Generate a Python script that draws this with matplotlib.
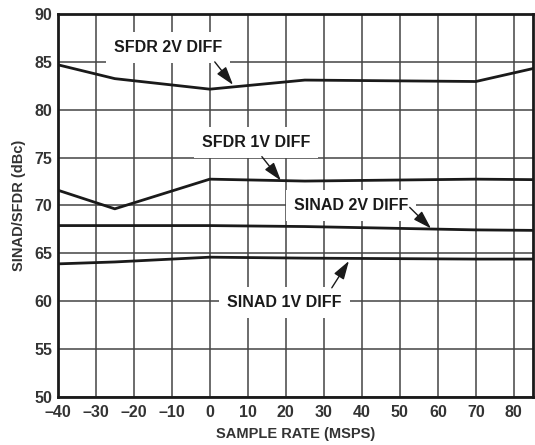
import matplotlib.pyplot as plt

plt.rcParams['font.family'] = ['Liberation Sans', 'DejaVu Sans']

x = [-40, -25, 0, 25, 70, 85]
sfdr_2v = [84.7, 83.25, 82.15, 83.1, 82.95, 84.3]
sfdr_1v = [71.6, 69.65, 72.75, 72.55, 72.75, 72.7]
sinad_2v = [67.9, 67.9, 67.9, 67.8, 67.45, 67.4]
sinad_1v = [63.9, 64.1, 64.6, 64.5, 64.4, 64.4]

x_ticks = list(range(-40, 81, 10))
y_ticks = list(range(50, 91, 5))

fig = plt.figure(figsize=(5.35, 4.45), dpi=100)
ax = fig.add_axes([0.108, 0.108, 0.888, 0.8605])

for series in (sfdr_2v, sfdr_1v, sinad_2v, sinad_1v):
    ax.plot(x, series, color='#1a1a1a', lw=2.0, zorder=3)

ax.set_xlim(-40, 85)
ax.set_ylim(50, 90)
ax.set_xticks(x_ticks)
ax.set_yticks(y_ticks)
ax.set_xticklabels([str(t).replace('-', '\u2013') for t in x_ticks])
ax.tick_params(length=0, labelsize=11.5, labelcolor='#333333')
ax.tick_params(axis='x', pad=6)
ax.tick_params(axis='y', pad=4)
for lbl in ax.get_xticklabels() + ax.get_yticklabels():
    lbl.set_fontweight('bold')
ax.grid(True, color='#444444', lw=1.1, zorder=1)
for s in ax.spines.values():
    s.set_linewidth(2.0)
    s.set_color('#1a1a1a')
    s.set_zorder(4)

ax.set_xlabel('SAMPLE RATE (MSPS)', fontsize=10.5, fontweight='bold',
              color='#333333', labelpad=5)
ax.set_ylabel('SINAD/SFDR (dBc)', fontsize=10.5, fontweight='bold',
              color='#333333', labelpad=6)

box = dict(boxstyle='square,pad=0.5', fc='white', ec='none')
arrow = dict(arrowstyle='-|>,head_length=0.8,head_width=0.25',
             color='#1a1a1a', lw=1.0, mutation_scale=14,
             shrinkA=0, shrinkB=0)

labels = [
    ('SFDR 2V DIFF', (-11.0, 86.5), (1.3, 85.0), (6.1, 82.6)),
    ('SFDR 1V DIFF', (12.1, 76.6), (13.7, 75.1), (18.7, 72.6)),
    ('SINAD 2V DIFF', (37.2, 70.0), (52.6, 69.8), (58.2, 67.6)),
    ('SINAD 1V DIFF', (19.7, 59.9), (32.1, 61.4), (36.6, 64.2)),
]
for text, pos, tail, head in labels:
    ax.text(pos[0], pos[1], text, ha='center', va='center', fontsize=11.5,
            fontweight='bold', color='#1a1a1a', bbox=box, zorder=5)
    ax.annotate('', xy=head, xytext=tail, arrowprops=arrow, zorder=6)

fig.savefig('out.png', dpi=100)
